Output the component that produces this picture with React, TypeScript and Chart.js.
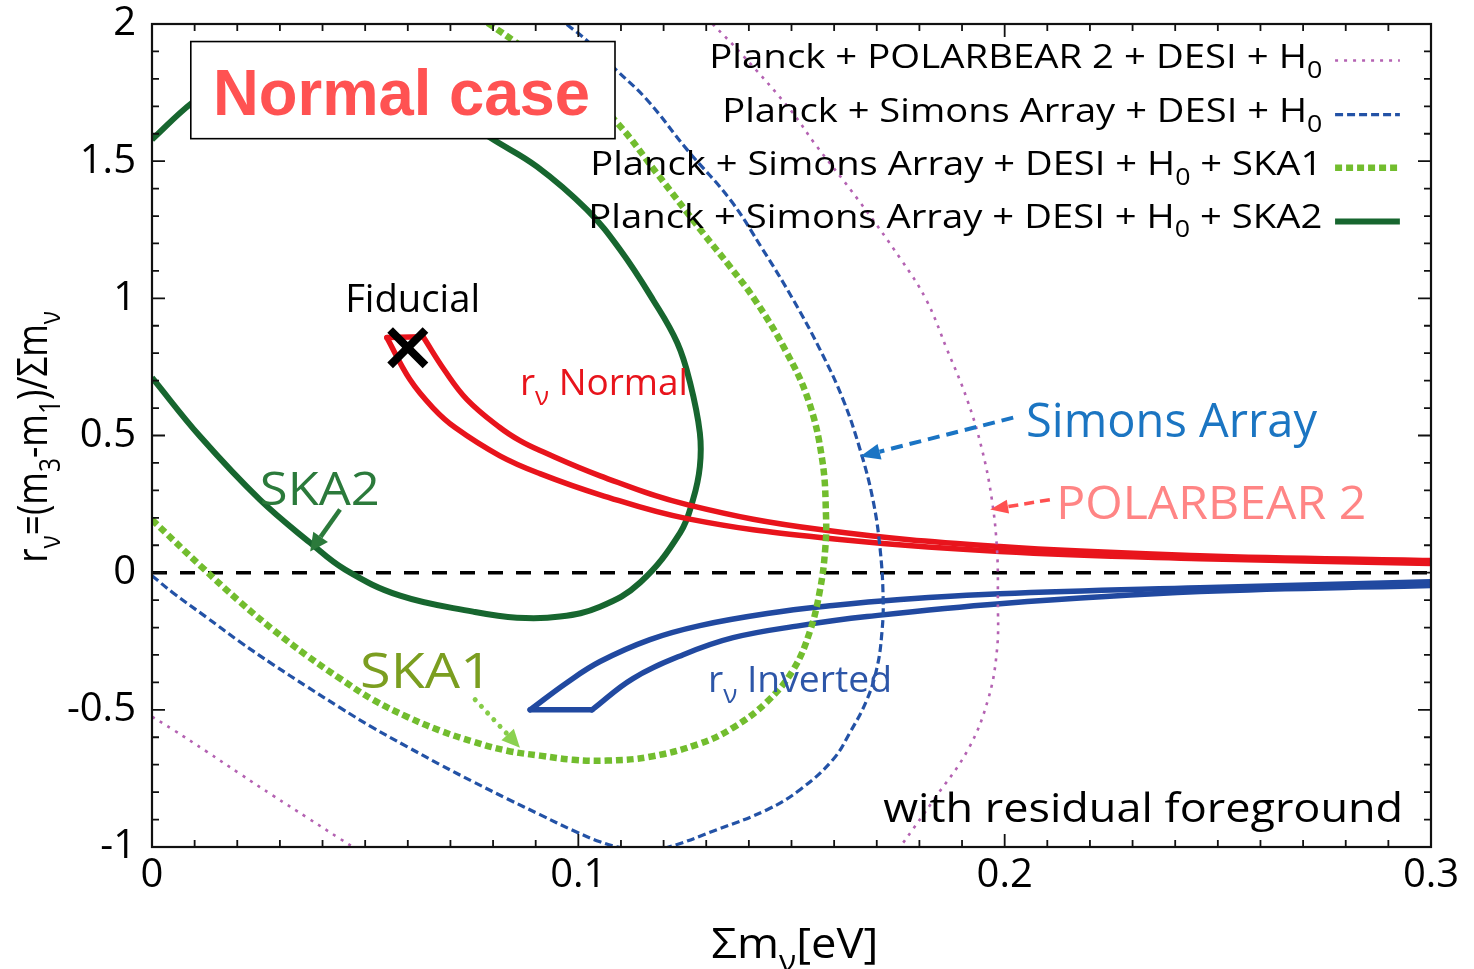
import React, { useEffect, useRef } from 'react';
import { Chart, registerables } from 'chart.js';

Chart.register(...registerables);

type XY = [number, number];

// Axis ranges and tick labels
const X_MIN = 0;
const X_MAX = 0.3;
const Y_MIN = -1;
const Y_MAX = 2;
const X_TICK_LABELS = ['0', '0.1', '0.2', '0.3'];
const Y_TICK_LABELS = ['-1', '-0.5', '0', '0.5', '1', '1.5', '2'];

// Fiducial model (Σm_ν, r_ν)
const FIDUCIAL: XY[] = [[0.06, 0.82]];

// Planck + Simons Array + DESI + H0 + SKA2 contour
const SKA2_CONTOUR: XY[] = [
  [0, 0.711], [0.0113, 0.496], [0.0253, 0.266], [0.0371, 0.109], [0.0453, 0.011],
  [0.0582, -0.084], [0.0753, -0.142], [0.0856, -0.164], [0.0957, -0.16],
  [0.1051, -0.124], [0.1145, -0.036], [0.1239, 0.146], [0.1269, 0.266],
  [0.1285, 0.386], [0.1285, 0.51], [0.1262, 0.693], [0.1232, 0.838],
  [0.1175, 0.995], [0.1098, 1.177], [0.102, 1.323], [0.0903, 1.48],
  [0.0793, 1.586], [0.0676, 1.71], [0.0582, 1.804], [0.0441, 1.87],
  [0.03, 1.859], [0.0183, 1.804], [0.0094, 1.713], [0, 1.579],
];

// Planck + Simons Array + DESI + H0 + SKA1 contour
const SKA1_CONTOUR: XY[] = [
  [0, 0.193], [0.0113, 0.026], [0.0206, -0.106], [0.0284, -0.208],
  [0.0364, -0.303], [0.0441, -0.386], [0.0518, -0.463], [0.0598, -0.525],
  [0.0676, -0.576], [0.0753, -0.616], [0.0833, -0.649], [0.091, -0.667],
  [0.0988, -0.682], [0.1067, -0.685], [0.1168, -0.671], [0.1285, -0.623],
  [0.1363, -0.565], [0.1443, -0.47], [0.1504, -0.354], [0.1543, -0.215],
  [0.1567, -0.062], [0.1579, 0.084], [0.1581, 0.204], [0.1572, 0.412],
  [0.1539, 0.631], [0.1485, 0.813], [0.1414, 0.995], [0.1356, 1.115],
  [0.1292, 1.239], [0.1185, 1.454], [0.1091, 1.64], [0.1004, 1.768],
  [0.091, 1.87], [0.0851, 1.936], [0.0793, 1.998], [0.0769, 2.023],
];

// Planck + Simons Array + DESI + H0 contour
const SIMONS_CONTOUR: XY[] = [
  [0, -0.011], [0.0049, -0.073], [0.0129, -0.164], [0.0206, -0.252],
  [0.0284, -0.335], [0.0364, -0.416], [0.0441, -0.492], [0.0518, -0.565],
  [0.0598, -0.634], [0.0676, -0.7], [0.0753, -0.762], [0.0833, -0.824],
  [0.091, -0.882], [0.0988, -0.94], [0.1051, -0.981], [0.1098, -1.002],
  [0.1156, -1.013], [0.1208, -1.002], [0.1325, -0.937], [0.1443, -0.864],
  [0.152, -0.791], [0.1597, -0.682], [0.1637, -0.583], [0.1677, -0.463],
  [0.1701, -0.343], [0.1712, -0.219], [0.1715, -0.098], [0.1708, 0.084],
  [0.1691, 0.266], [0.1661, 0.448], [0.1621, 0.631], [0.1567, 0.813],
  [0.1504, 0.995], [0.1433, 1.177], [0.1356, 1.36], [0.1255, 1.542],
  [0.1161, 1.724], [0.1088, 1.834], [0.1023, 1.936], [0.0971, 2.001], [0.0952, 2.027],
];

// Planck + POLARBEAR 2 + DESI + H0 contour (two visible arcs)
const PB2_CONTOUR_RIGHT: XY[] = [
  [0.1299, 2.023], [0.1314, 2.001], [0.1382, 1.892], [0.1499, 1.684],
  [0.1553, 1.567], [0.1656, 1.36], [0.1757, 1.141], [0.1816, 0.995],
  [0.1865, 0.813], [0.1912, 0.631], [0.1947, 0.448], [0.197, 0.266],
  [0.1982, 0.084], [0.1984, -0.098], [0.1982, -0.281], [0.1961, -0.463],
  [0.1914, -0.645], [0.1834, -0.827], [0.1755, -0.999], [0.1731, -1.046],
];
const PB2_CONTOUR_LEFT: XY[] = [
  [0, -0.525], [0.0049, -0.572], [0.0129, -0.653], [0.0206, -0.733],
  [0.0284, -0.813], [0.0364, -0.893], [0.0441, -0.97], [0.0488, -1.017],
];

// r_ν band for the normal hierarchy
const NORMAL_UPPER: XY[] = [
  [0.0636, 0.86], [0.0687, 0.736], [0.0739, 0.631], [0.0816, 0.529],
  [0.0863, 0.481], [0.091, 0.445], [0.1051, 0.353], [0.1255, 0.248],
  [0.1567, 0.157], [0.1989, 0.095], [0.2458, 0.062], [0.3, 0.044],
];
const NORMAL_LOWER: XY[] = [
  [0.0551, 0.857], [0.0605, 0.704], [0.0659, 0.601], [0.0711, 0.529],
  [0.0816, 0.426], [0.091, 0.361], [0.1051, 0.284], [0.1255, 0.197],
  [0.1567, 0.128], [0.1989, 0.077], [0.2458, 0.051], [0.3, 0.033],
];
const NORMAL_EDGE: XY[] = [[0.0551, 0.857], [0.0636, 0.86]];

// r_ν band for the inverted hierarchy
const INVERTED_UPPER: XY[] = [
  [0.0887, -0.5], [0.0973, -0.401], [0.1051, -0.324], [0.1168, -0.244],
  [0.1285, -0.193], [0.1443, -0.149], [0.1597, -0.12], [0.1755, -0.098],
  [0.1989, -0.077], [0.2458, -0.055], [0.3, -0.033],
];
const INVERTED_LOWER: XY[] = [
  [0.1032, -0.5], [0.1128, -0.386], [0.1246, -0.299], [0.1363, -0.237],
  [0.152, -0.193], [0.1677, -0.16], [0.1989, -0.113], [0.2458, -0.069], [0.3, -0.047],
];
const INVERTED_EDGE: XY[] = [[0.0887, -0.5], [0.1032, -0.5]];

const ZERO_LINE: XY[] = [[0, 0], [0.3, 0]];

const FAMILY = "'Open Sans', 'DejaVu Sans', sans-serif";

const SKA2_COLOR = '#17662f';
const SKA1_COLOR = '#72bd2e';
const SIMONS_COLOR = '#2352a6';
const PB2_COLOR = '#b462b2';
const NORMAL_COLOR = '#e8141c';
const INVERTED_COLOR = '#2149a0';

interface LineStyle { color: string; width: number; dash: number[] }
const PB2_STYLE: LineStyle = { color: PB2_COLOR, width: 2.6, dash: [3, 6] };
const SIMONS_STYLE: LineStyle = { color: SIMONS_COLOR, width: 3.2, dash: [8, 4] };
const SKA1_STYLE: LineStyle = { color: SKA1_COLOR, width: 6.5, dash: [7, 4] };
const SKA2_STYLE: LineStyle = { color: SKA2_COLOR, width: 6, dash: [] };
const NORMAL_STYLE: LineStyle = { color: NORMAL_COLOR, width: 5.5, dash: [] };
const INVERTED_STYLE: LineStyle = { color: INVERTED_COLOR, width: 5.5, dash: [] };
const ZERO_STYLE: LineStyle = { color: '#000', width: 3.5, dash: [15, 13] };

type Seg = { t: string; sub?: boolean };
const txt = (t: string): Seg => ({ t });
const sb = (t: string): Seg => ({ t, sub: true });

// Legend rows: text, line style, drawn text width
const LEGEND_ROWS: { segs: Seg[]; style: LineStyle; width: number }[] = [
  { segs: [txt('Planck + POLARBEAR 2 + DESI + H'), sb('0')], style: PB2_STYLE, width: 613 },
  { segs: [txt('Planck + Simons Array + DESI + H'), sb('0')], style: SIMONS_STYLE, width: 600 },
  { segs: [txt('Planck + Simons Array + DESI + H'), sb('0'), txt(' + SKA1')], style: SKA1_STYLE, width: 732 },
  { segs: [txt('Planck + Simons Array + DESI + H'), sb('0'), txt(' + SKA2')], style: SKA2_STYLE, width: 734 },
];

interface RichOpts {
  size: number;
  color: string;
  width?: number;
  align?: 'left' | 'right' | 'center';
  weight?: string;
  family?: string;
  rotate?: boolean;
}

function setFont(ctx: CanvasRenderingContext2D, size: number, weight: string, family: string) {
  ctx.font = `${weight} ${size}px ${family}`;
}

function measureRich(ctx: CanvasRenderingContext2D, segs: Seg[], size: number, weight: string, family: string) {
  let w = 0;
  for (const s of segs) {
    setFont(ctx, s.sub ? size * 0.7 : size, weight, family);
    w += ctx.measureText(s.t).width;
  }
  return w;
}

function drawRich(ctx: CanvasRenderingContext2D, segs: Seg[], x: number, y: number, o: RichOpts) {
  const weight = o.weight ?? 'normal';
  const family = o.family ?? FAMILY;
  const natural = measureRich(ctx, segs, o.size, weight, family);
  const sx = o.width ? o.width / natural : 1;
  const w = natural * sx;
  const align = o.align ?? 'left';
  const offset = align === 'left' ? 0 : align === 'right' ? -w : -w / 2;
  ctx.save();
  ctx.translate(x, y);
  if (o.rotate) ctx.rotate(-Math.PI / 2);
  ctx.translate(offset, 0);
  ctx.scale(sx, 1);
  ctx.fillStyle = o.color;
  ctx.textAlign = 'left';
  ctx.textBaseline = 'alphabetic';
  let cx = 0;
  for (const s of segs) {
    const size = s.sub ? o.size * 0.7 : o.size;
    setFont(ctx, size, weight, family);
    ctx.fillText(s.t, cx, s.sub ? o.size * 0.3 : 0);
    cx += ctx.measureText(s.t).width;
  }
  ctx.restore();
}

function drawArrow(
  ctx: CanvasRenderingContext2D,
  x1: number, y1: number, x2: number, y2: number,
  color: string, width: number, dash: number[], headLen: number, headW: number,
  headColor?: string, cap: CanvasLineCap = 'butt',
) {
  const ang = Math.atan2(y2 - y1, x2 - x1);
  const bx = x2 - headLen * Math.cos(ang);
  const by = y2 - headLen * Math.sin(ang);
  ctx.save();
  ctx.strokeStyle = color;
  ctx.lineWidth = width;
  ctx.lineCap = cap;
  ctx.setLineDash(dash);
  ctx.beginPath();
  ctx.moveTo(x1, y1);
  ctx.lineTo(bx, by);
  ctx.stroke();
  ctx.setLineDash([]);
  const px = -Math.sin(ang) * headW / 2;
  const py = Math.cos(ang) * headW / 2;
  ctx.fillStyle = headColor ?? color;
  ctx.beginPath();
  ctx.moveTo(x2, y2);
  ctx.lineTo(bx + px, by + py);
  ctx.lineTo(bx - px, by - py);
  ctx.closePath();
  ctx.fill();
  ctx.restore();
}

const overlayPlugin = {
  id: 'overlay',
  afterDatasetsDraw(chart: any) {
    const ctx: CanvasRenderingContext2D = chart.ctx;
    const xs = chart.scales.x;
    const ys = chart.scales.y;
    const { left, right, top, bottom } = chart.chartArea;
    const X = (v: number) => xs.getPixelForValue(v);
    const Y = (v: number) => ys.getPixelForValue(v);

    ctx.save();
    // frame
    ctx.strokeStyle = '#111';
    ctx.lineWidth = 2.2;
    ctx.setLineDash([]);
    ctx.strokeRect(left, top, right - left, bottom - top);

    // inward ticks on all four sides
    ctx.lineWidth = 1.8;
    ctx.beginPath();
    for (let i = 0; i <= 30; i++) {
      const px = X(i / 100);
      const len = i % 10 === 0 ? 13 : 7;
      ctx.moveTo(px, bottom); ctx.lineTo(px, bottom - len);
      ctx.moveTo(px, top); ctx.lineTo(px, top + len);
    }
    for (let i = -10; i <= 20; i++) {
      const py = Y(i / 10);
      const len = i % 5 === 0 ? 13 : 7;
      ctx.moveTo(left, py); ctx.lineTo(left + len, py);
      ctx.moveTo(right, py); ctx.lineTo(right - len, py);
    }
    ctx.stroke();

    // axis titles
    drawRich(ctx, [txt('Σm'), sb('ν'), txt('[eV]')], X(0.1312), 958, {
      size: 42, color: '#000', width: 167, align: 'left',
    });
    drawRich(ctx, [txt('r'), sb('ν'), txt('=(m'), sb('3'), txt('-m'), sb('1'), txt(')/Σm'), sb('ν')], 47, Y(0.495), {
      size: 42, color: '#000', width: 252, align: 'center', rotate: true,
    });

    // "Normal case" box
    const bx0 = X(0.0091), bx1 = X(0.1086), by0 = Y(1.936), by1 = Y(1.582);
    ctx.fillStyle = '#fff';
    ctx.fillRect(bx0, by0, bx1 - bx0, by1 - by0);
    ctx.strokeStyle = '#000';
    ctx.lineWidth = 1.6;
    ctx.strokeRect(bx0, by0, bx1 - bx0, by1 - by0);
    drawRich(ctx, [txt('Normal case')], X(0.0143), Y(1.67), {
      size: 64, color: '#ff5252', width: 377, weight: 'bold', family: "'Liberation Sans', Arial, sans-serif",
    });

    // legend
    const rowBase = [1.841, 1.644, 1.451, 1.258];
    const rowLine = [1.867, 1.67, 1.476, 1.28];
    LEGEND_ROWS.forEach((row, i) => {
      drawRich(ctx, row.segs, X(0.2745), Y(rowBase[i]), {
        size: 33, color: '#000', width: row.width, align: 'right',
      });
      ctx.save();
      ctx.strokeStyle = row.style.color;
      ctx.lineWidth = row.style.width;
      ctx.setLineDash(row.style.dash);
      ctx.beginPath();
      ctx.moveTo(X(0.2775), Y(rowLine[i]));
      ctx.lineTo(X(0.2927), Y(rowLine[i]));
      ctx.stroke();
      ctx.restore();
    });

    // labels on the plot
    drawRich(ctx, [txt('Fiducial')], X(0.0453), Y(0.951), { size: 38, color: '#000', width: 135 });
    drawRich(ctx, [txt('r'), sb('ν'), txt(' Normal')], X(0.0863), Y(0.649), { size: 36, color: NORMAL_COLOR, width: 168 });
    drawRich(ctx, [txt('r'), sb('ν'), txt(' Inverted')], X(0.1304), Y(-0.434), { size: 36, color: '#2d56a8', width: 184 });
    drawRich(ctx, [txt('SKA2')], X(0.0253), Y(0.248), { size: 46, color: '#2b7a3b', width: 120 });
    drawRich(ctx, [txt('SKA1')], X(0.0488), Y(-0.419), { size: 50, color: '#7b9e20', width: 132 });
    drawRich(ctx, [txt('Simons Array')], X(0.205), Y(0.496), { size: 47, color: '#1b75c2', width: 291 });
    drawRich(ctx, [txt('POLARBEAR 2')], X(0.2121), Y(0.197), { size: 45, color: '#ff8585', width: 310 });
    drawRich(ctx, [txt('with residual foreground')], X(0.1715), Y(-0.908), { size: 41, color: '#000', width: 520 });

    // arrows
    drawArrow(ctx, X(0.0441), Y(0.23), X(0.0371), Y(0.077), '#2b7a3b', 4.5, [], 18, 18);
    drawArrow(ctx, X(0.0758), Y(-0.463), X(0.0863), Y(-0.638), '#86cc48', 5, [0.1, 9], 18, 17, '#8bd150', 'round');
    drawArrow(ctx, X(0.202), Y(0.565), X(0.1661), Y(0.423), '#1a74c4', 4, [12, 7], 20, 16);
    drawArrow(ctx, X(0.2106), Y(0.266), X(0.1966), Y(0.23), '#ff5050', 3.5, [10, 6], 18, 14);

    ctx.restore();
  },
};

const toPts = (arr: XY[]) => arr.map(([x, y]) => ({ x, y }));

function curve(label: string, pts: XY[], style: LineStyle, extra: Record<string, unknown> = {}) {
  return {
    type: 'line',
    label,
    data: toPts(pts),
    showLine: true,
    borderColor: style.color,
    backgroundColor: style.color,
    borderWidth: style.width,
    borderDash: style.dash,
    pointRadius: 0,
    pointHoverRadius: 0,
    tension: 0.4,
    fill: false,
    clip: 0,
    ...extra,
  };
}

export default function App() {
  const ref = useRef<HTMLCanvasElement>(null);

  useEffect(() => {
    if (!ref.current) return;
    const chart = new Chart(ref.current, {
      type: 'scatter',
      data: {
        datasets: [
          {
            label: 'Fiducial',
            data: toPts(FIDUCIAL),
            showLine: false,
            pointStyle: 'crossRot',
            pointRadius: 25,
            pointBorderWidth: 8,
            borderColor: '#000',
            backgroundColor: '#000',
            clip: false,
          } as any,
          curve('Simons Array', SIMONS_CONTOUR, SIMONS_STYLE),
          curve('POLARBEAR 2 right', PB2_CONTOUR_RIGHT, PB2_STYLE),
          curve('POLARBEAR 2 left', PB2_CONTOUR_LEFT, PB2_STYLE),
          curve('SKA1', SKA1_CONTOUR, SKA1_STYLE),
          curve('Normal upper', NORMAL_UPPER, NORMAL_STYLE, { borderCapStyle: 'round' }),
          curve('Normal lower', NORMAL_LOWER, NORMAL_STYLE, { borderCapStyle: 'round' }),
          curve('Normal edge', NORMAL_EDGE, NORMAL_STYLE, { tension: 0, borderCapStyle: 'round' }),
          curve('Inverted upper', INVERTED_UPPER, INVERTED_STYLE, { borderCapStyle: 'round' }),
          curve('Inverted lower', INVERTED_LOWER, INVERTED_STYLE, { borderCapStyle: 'round' }),
          curve('Inverted edge', INVERTED_EDGE, INVERTED_STYLE, { tension: 0, borderCapStyle: 'round' }),
          curve('SKA2', SKA2_CONTOUR, SKA2_STYLE),
          curve('zero', ZERO_LINE, ZERO_STYLE, { tension: 0 }),
        ] as any,
      },
      options: {
        responsive: false,
        maintainAspectRatio: false,
        animation: false,
        events: [],
        devicePixelRatio: 1,
        layout: { autoPadding: false, padding: { top: 24, right: 43, left: 0, bottom: 0 } },
        elements: { line: { capBezierPoints: false } },
        plugins: {
          legend: { display: false },
          tooltip: { enabled: false },
        },
        scales: {
          x: {
            type: 'linear',
            min: X_MIN,
            max: X_MAX,
            grid: { display: false, drawTicks: false },
            border: { display: false },
            ticks: {
              stepSize: 0.1,
              padding: 5,
              color: '#000',
              font: { family: FAMILY, size: 40 },
              maxRotation: 0,
              callback: (_v: any, i: number) => X_TICK_LABELS[i],
            },
            afterFit: (s: any) => {
              s.height = 122;
              s.paddingLeft = 0;
              s.paddingRight = 0;
            },
          },
          y: {
            type: 'linear',
            min: Y_MIN,
            max: Y_MAX,
            grid: { display: false, drawTicks: false },
            border: { display: false },
            ticks: {
              stepSize: 0.5,
              padding: 16,
              color: '#000',
              font: { family: FAMILY, size: 40 },
              callback: (_v: any, i: number) => Y_TICK_LABELS[i],
            },
            afterFit: (s: any) => {
              s.width = 152;
              s.paddingTop = 0;
              s.paddingBottom = 0;
            },
          },
        },
      } as any,
      plugins: [overlayPlugin],
    });
    return () => chart.destroy();
  }, []);

  return (
    <div style={{ position: 'absolute', left: 0, top: 0, width: 1474, height: 969, background: '#fff' }}>
      <canvas ref={ref} width={1474} height={969} style={{ display: 'block' }} />
    </div>
  );
}
